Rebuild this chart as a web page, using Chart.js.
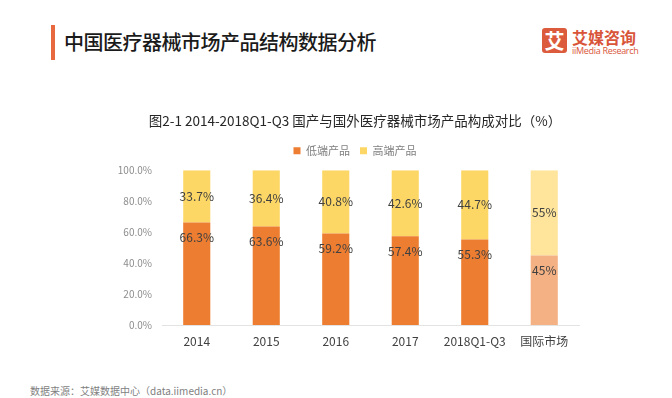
<!DOCTYPE html>
<html>
<head>
<meta charset="utf-8">
<script src="https://cdn.jsdelivr.net/npm/chart.js@4/dist/chart.umd.min.js"></script>
<style>
  html, body { margin: 0; padding: 0; background: #fff; }
  body { width: 672px; height: 398px; position: relative; overflow: hidden; font-family: "Noto Sans CJK SC", sans-serif; }
  .accent { position: absolute; left: 51px; top: 25px; width: 4px; height: 35px; background: #e8693f; }
  .head { position: absolute; left: 64px; top: 29px; font-size: 20px; line-height: 26px; font-weight: 500; color: #1a1a1a; letter-spacing: -0.5px; }
  .logo-box { position: absolute; left: 542px; top: 28px; width: 25px; height: 25px; border-radius: 3px; background: #dc5b3c; color: #fff; font-size: 20px; font-weight: bold; line-height: 25px; text-align: center; }
  .logo-cn { position: absolute; left: 572px; top: 27px; font-size: 16px; line-height: 20px; font-weight: bold; color: #d9553a; }
  .logo-en { position: absolute; left: 572px; top: 45px; font-size: 9px; line-height: 11px; color: #d9553a; font-family: "Open Sans", sans-serif; letter-spacing: -0.3px; }
  .source { position: absolute; left: 30px; top: 384px; font-size: 10px; line-height: 13px; color: #7f7f7f; }
  #chart { position: absolute; left: 0; top: 100px; }
</style>
</head>
<body>
<div class="accent"></div>
<div class="head">中国医疗器械市场产品结构数据分析</div>
<div class="logo-box">艾</div>
<div class="logo-cn">艾媒咨询</div>
<div class="logo-en">iiMedia Research</div>
<canvas id="chart" width="672" height="262"></canvas>
<div class="source">数据来源：艾媒数据中心（data.iimedia.cn）</div>

<script>
// ── Data ──
const categories = ['2014', '2015', '2016', '2017', '2018Q1-Q3', '国际市场'];
const lowEnd = [66.3, 63.6, 59.2, 57.4, 55.3, 45];
const highEnd = [33.7, 36.4, 40.8, 42.6, 44.7, 55];
const seriesNames = ['低端产品', '高端产品'];
const yTicks = [0, 20, 40, 60, 80, 100];

// ── Colours (last bar is the lighter "international" one) ──
const orange = '#ed7d31', orangeLight = '#f4b183';
const gold = '#fdd766', goldLight = '#fee59b';
const lastIdx = categories.length - 1;

Chart.defaults.font.family = '"Noto Sans CJK SC", sans-serif';

// push the plot a few px below the legend
const legendGap = {
  id: 'legendGap',
  beforeInit(chart) {
    const fit = chart.legend.fit;
    chart.legend.fit = function () { fit.call(this); this.height += 4; };
  }
};

// title + legend sit a little right of the box centre in the original
const headerShift = {
  id: 'headerShift',
  afterLayout(chart) {
    [chart.titleBlock, chart.legend].forEach(b => { if (b) { b.left += 7.5; b.right += 7.5; } });
  }
};

// value labels: low-end near top of its segment, high-end centred
const barLabels = {
  id: 'barLabels',
  afterDatasetsDraw(chart) {
    const { ctx } = chart;
    ctx.save();
    ctx.font = '12px "Noto Sans CJK SC", sans-serif';
    ctx.fillStyle = '#404040';
    ctx.textAlign = 'center';
    ctx.textBaseline = 'middle';
    chart.data.datasets.forEach((ds, i) => {
      chart.getDatasetMeta(i).data.forEach((bar, j) => {
        const y = i === 0 ? bar.y + 15 : (bar.y + bar.base) / 2;
        ctx.fillText(ds.data[j] + '%', bar.x, y);
      });
    });
    ctx.restore();
  }
};

new Chart(document.getElementById('chart'), {
  type: 'bar',
  data: {
    labels: categories,
    datasets: [
      { label: seriesNames[0], data: lowEnd,
        backgroundColor: c => c.dataIndex === lastIdx ? orangeLight : orange },
      { label: seriesNames[1], data: highEnd,
        backgroundColor: c => c.dataIndex === lastIdx ? goldLight : gold },
    ]
  },
  options: {
    responsive: false, animation: false, devicePixelRatio: 1,
    categoryPercentage: 1, barPercentage: 0.39,
    layout: { padding: { left: 116, right: 93, top: 0, bottom: 4.6 } },
    plugins: {
      title: {
        display: true,
        text: '图2-1 2014-2018Q1-Q3 国产与国外医疗器械市场产品构成对比（%）',
        color: '#262626', font: { size: 13.5, weight: 'normal' },
        padding: { top: 12.8, bottom: 6.3 }
      },
      legend: {
        labels: { color: '#7f7f7f', font: { size: 11 }, boxWidth: 7, boxHeight: 7, padding: 10 }
      },
      tooltip: { enabled: false }
    },
    scales: {
      x: {
        stacked: true,
        grid: { display: false, drawTicks: false },
        border: { display: true, color: '#e3e3e3' },
        ticks: { color: '#404040', font: { size: 12 }, padding: 9 }
      },
      y: {
        stacked: true, min: 0, max: 100,
        afterFit: s => { s.width = 46; },
        afterBuildTicks: s => { s.ticks = yTicks.map(v => ({ value: v })); },
        grid: { display: false, drawTicks: false },
        border: { display: false },
        ticks: { color: '#8c8c8c', font: { size: 10 }, padding: 10,
                 callback: v => v.toFixed(1) + '%' }
      }
    }
  },
  plugins: [legendGap, headerShift, barLabels]
});
</script>
</body>
</html>
